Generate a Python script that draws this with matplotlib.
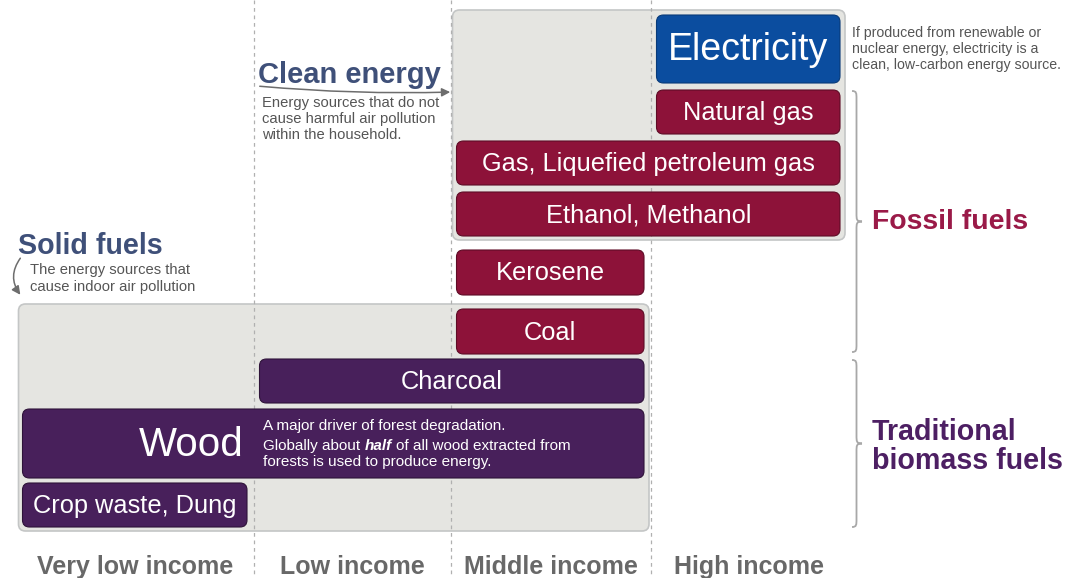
import matplotlib
matplotlib.use("Agg")
import matplotlib.pyplot as plt
import numpy as np
from matplotlib.patches import FancyBboxPatch, FancyArrowPatch, PathPatch
from matplotlib.path import Path

plt.rcParams['font.family'] = ['Liberation Sans', 'DejaVu Sans']

# data
income_groups = ["Very low income", "Low income", "Middle income", "High income"]
fuels = ["Electricity", "Natural gas", "Gas, Liquefied petroleum gas", "Ethanol, Methanol",
         "Kerosene", "Coal", "Charcoal", "Wood", "Crop waste, Dung"]
income_from = [3, 3, 2, 2, 2, 2, 1, 0, 0]
income_to = [4, 4, 4, 4, 3, 3, 3, 3, 1]
fuel_type = ["electric", "fossil", "fossil", "fossil", "fossil", "fossil", "biomass", "biomass", "biomass"]
fuel_group = ["clean", "clean", "clean", "clean", None, "solid", "solid", "solid", "solid"]

# layout (pixels)
col_edges = [17, 254, 451, 651, 847]
row_top = [15, 90, 141, 192, 250, 309, 359, 409, 483]
row_h = [68, 44, 44, 44, 45, 45, 44, 69, 44]
label_size = [27, 18.3, 18.3, 18.3, 18.3, 18.3, 18.3, 29, 18.3]

colors = {"electric": "#0b4d9f", "fossil": "#8d1239", "biomass": "#48205b"}
edge_cols = {"electric": "#083a78", "fossil": "#5e0c26", "biomass": "#2e1339"}
head_col = "#3f5079"
note_col = "#555555"

fig = plt.figure(figsize=(10.69, 5.78), dpi=100)
ax = fig.add_axes([0, 0, 1, 1])
ax.set_xlim(0, 1069)
ax.set_ylim(578, 0)
ax.axis('off')


def lvl_x(level):
    return np.interp(level, range(len(col_edges)), col_edges)


# bar extents
x0s, x1s = [], []
for i in range(len(fuels)):
    x0s.append(lvl_x(income_from[i]) + 5.5)
    x1s.append(lvl_x(income_to[i]) - 7)

# grey group boxes
for g in ["clean", "solid"]:
    idx = [i for i in range(len(fuels)) if fuel_group[i] == g]
    bx0 = min(x0s[i] for i in idx) - 4
    bx1 = max(x1s[i] for i in idx) + 5
    by0 = min(row_top[i] for i in idx) - 5
    by1 = max(row_top[i] + row_h[i] for i in idx) + 4
    ax.add_patch(FancyBboxPatch((bx0, by0), bx1 - bx0, by1 - by0,
                                boxstyle="round,pad=0,rounding_size=7",
                                fc="#e5e5e1", ec="#c4c6c6", lw=1.2, zorder=1))

# dashed column separators
for e in col_edges[1:-1]:
    ax.plot([e, e], [0, 578], color="#b0b0b0", lw=0.9, ls=(0, (3, 3)), zorder=2)

# bars
for i, name in enumerate(fuels):
    ax.add_patch(FancyBboxPatch((x0s[i], row_top[i]), x1s[i] - x0s[i], row_h[i],
                                boxstyle="round,pad=0,rounding_size=7",
                                fc=colors[fuel_type[i]], ec=edge_cols[fuel_type[i]],
                                lw=0.8, zorder=3))
    yc = row_top[i] + row_h[i] / 2
    if name == "Wood":
        ax.text(244, yc + 1, name, color="white", fontsize=label_size[i],
                ha="right", va="center", zorder=4)
    else:
        ax.text((x0s[i] + x1s[i]) / 2, yc + 1, name, color="white",
                fontsize=label_size[i], ha="center", va="center", zorder=4)

# wood note
wood_kw = dict(color="white", fontsize=11, zorder=4)
ax.text(263, 430, "A major driver of forest degradation.", va="baseline", **wood_kw)
t1 = ax.text(263, 450, "Globally about", va="baseline", **wood_kw)
t2 = ax.annotate("half", xy=(1, 0), xycoords=t1, xytext=(3, 0), textcoords="offset points",
                 va="bottom", ha="left", style="italic", fontweight="bold", **wood_kw)
ax.annotate("of all wood extracted from", xy=(1, 0), xycoords=t2, xytext=(3, 0),
            textcoords="offset points", va="bottom", ha="left", **wood_kw)
ax.text(263, 466, "forests is used to produce energy.", va="baseline", **wood_kw)

# income labels
for k, lab in enumerate(income_groups):
    ax.text((col_edges[k] + col_edges[k + 1]) / 2, 574, lab, ha="center", va="baseline",
            fontsize=18, fontweight="bold", color="#686868")

# clean energy heading
ax.text(258, 83, "Clean energy", fontsize=21, fontweight="bold", color=head_col, va="baseline")
for j, line in enumerate(["Energy sources that do not", "cause harmful air pollution",
                          "within the household."]):
    ax.text(262, 107 + 16 * j, line, fontsize=10.6, color=note_col, va="baseline")
ax.add_patch(FancyArrowPatch((257, 86), (453, 92), connectionstyle="arc3,rad=0.03",
                             arrowstyle="-|>,head_length=5,head_width=2.5",
                             color="#6d6d6d", lw=1.1, zorder=5))

# solid fuels heading
ax.text(18, 254, "Solid fuels", fontsize=20.6, fontweight="bold", color=head_col, va="baseline")
for j, line in enumerate(["The energy sources that", "cause indoor air pollution"]):
    ax.text(30, 274 + 17 * j, line, fontsize=10.6, color=note_col, va="baseline")
ax.add_patch(FancyArrowPatch((22, 256), (22, 297), connectionstyle="arc3,rad=0.4",
                             arrowstyle="-|>,head_length=5,head_width=2.5",
                             color="#6d6d6d", lw=1.1, zorder=5))

# electricity note
for j, line in enumerate(["If produced from renewable or", "nuclear energy, electricity is a",
                          "clean, low-carbon energy source."]):
    ax.text(852, 37 + 16 * j, line, fontsize=10.2, color=note_col, va="baseline")


def brace(x, y0, y1, w=10):
    ym = (y0 + y1) / 2
    xm = x + w * 0.45
    r = 8
    verts = [(x, y0), (xm, y0), (xm, y0 + 2), (xm, y0 + r),
             (xm, ym - r),
             (xm, ym - 2), (xm, ym), (x + w, ym),
             (xm, ym), (xm, ym + 2), (xm, ym + r),
             (xm, y1 - r),
             (xm, y1 - 2), (xm, y1), (x, y1)]
    codes = [Path.MOVETO, Path.CURVE4, Path.CURVE4, Path.CURVE4,
             Path.LINETO,
             Path.CURVE4, Path.CURVE4, Path.CURVE4,
             Path.CURVE4, Path.CURVE4, Path.CURVE4,
             Path.LINETO,
             Path.CURVE4, Path.CURVE4, Path.CURVE4]
    ax.add_patch(PathPatch(Path(verts, codes), fc="none", ec="#a8a8a8", lw=1.3, zorder=5))


brace(852, 91, 352)
brace(852, 360, 527)
ax.text(872, 222, "Fossil fuels", fontsize=20.4, fontweight="bold", color="#9a1a48", va="center")
ax.text(872, 440, "Traditional", fontsize=20.6, fontweight="bold", color="#4d1f63", va="baseline")
ax.text(872, 469, "biomass fuels", fontsize=20.6, fontweight="bold", color="#4d1f63", va="baseline")

fig.savefig("out.png", dpi=100, facecolor="white")
